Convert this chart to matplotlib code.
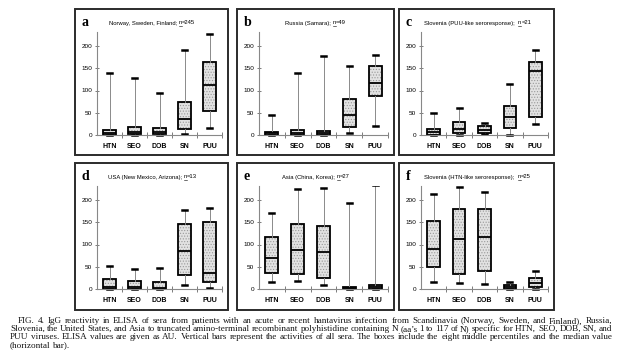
import matplotlib
matplotlib.use("Agg")
import matplotlib.pyplot as plt
from matplotlib.patches import Rectangle
from matplotlib.lines import Line2D

W, H = 624, 361
plt.rcParams["hatch.linewidth"] = 0.5

categories = ["HTN", "SEO", "DOB", "SN", "PUU"]
y_ticks = [0, 50, 100, 150, 200]
panel_letters = ["a", "b", "c", "d", "e", "f"]
panel_prefix = ["Norway, Sweden, Finland; ", "Russia (Samara); ",
                "Slovenia (PUU-like seroresponse);  ", "USA (New Mexico, Arizona); ",
                "Asia (China, Korea); ", "Slovenia (HTN-like seroresponse);  "]
panel_n = ["=245", "=49", "=21", "=13", "=27", "=25"]

# values per panel (AU): lower whisker, q1, median, q3, upper whisker
a_low = [0, 0, 0, 3, 16]
a_q1 = [1, 2, 2, 14, 53]
a_med = [5, 7, 7, 35, 112]
a_q3 = [12, 19, 16, 74, 165]
a_high = [140, 129, 94, 190, 227]

b_low = [0, 0, 0, 4, 21]
b_q1 = [1, 1, 1, 17, 87]
b_med = [4, 5, 4, 45, 117]
b_q3 = [7, 12, 8, 82, 155]
b_high = [45, 140, 178, 156, 180]

c_low = [0, 1, 2, 1, 24]
c_q1 = [1, 4, 4, 15, 41]
c_med = [7, 13, 11, 40, 144]
c_q3 = [13, 30, 21, 65, 165]
c_high = [49, 61, 27, 114, 192]

d_low = [0, 0, 0, 9, 3]
d_q1 = [1, 1, 1, 32, 16]
d_med = [5, 5, 3, 85, 35]
d_q3 = [23, 19, 16, 145, 150]
d_high = [51, 45, 47, 178, 183]

e_low = [16, 18, 10, 0, 0]
e_q1 = [36, 34, 25, 1, 1]
e_med = [69, 87, 84, 2, 4]
e_q3 = [117, 146, 142, 4, 9]
e_high = [171, 225, 228, 193, 233]

f_low = [16, 14, 12, 0, 1]
f_q1 = [50, 34, 40, 1, 4]
f_med = [91, 113, 116, 5, 13]
f_q3 = [153, 179, 180, 10, 24]
f_high = [213, 229, 219, 16, 40]

panels = [
    (a_low, a_q1, a_med, a_q3, a_high),
    (b_low, b_q1, b_med, b_q3, b_high),
    (c_low, c_q1, c_med, c_q3, c_high),
    (d_low, d_q1, d_med, d_q3, d_high),
    (e_low, e_q1, e_med, e_q3, e_high),
    (f_low, f_q1, f_med, f_q3, f_high),
]

caption_lines = [
    "FIG. 4. IgG reactivity in ELISA of sera from patients with an acute or recent hantavirus infection from Scandinavia (Norway, Sweden, and Finland), Russia,",
    "Slovenia, the United States, and Asia to truncated amino-terminal recombinant polyhistidine containing N (aa\u2019s 1 to 117 of N) specific for HTN, SEO, DOB, SN, and",
    "PUU viruses. ELISA values are given as AU. Vertical bars represent the activities of all sera. The boxes include the eight middle percentiles and the median value",
    "(horizontal bar).",
]

fig = plt.figure(figsize=(6.24, 3.61), dpi=100)
fig.patch.set_facecolor("white")

cols = [(75, 228), (237, 394), (399, 554)]
rows = [(9, 155), (163, 310)]
title_dx = [34, 48, 25, 33, 45, 25]
PXU = 0.445
YMIN, YMAX = -8, 232

def fx(x):
    return x / W

def fy(y):
    return 1 - y / H

renderer = fig.canvas.get_renderer()

for i in range(6):
    r, c = divmod(i, 3)
    x0, x1 = cols[c]
    y0, y1 = rows[r]
    fig.patches.append(Rectangle((fx(x0), fy(y1)), (x1 - x0) / W, (y1 - y0) / H,
                                 transform=fig.transFigure, fill=False, lw=1.4,
                                 ec="#2b2b2b"))
    axl = x0 + 22
    axr = x1 - 6
    zero = y0 + 126
    top = zero - YMAX * PXU
    bot = zero - YMIN * PXU
    ax = fig.add_axes([fx(axl), fy(bot), (axr - axl) / W, (bot - top) / H])
    ax.set_facecolor("none")
    low, q1, med, q3, high = panels[i]
    stats = [dict(whislo=low[k], q1=q1[k], med=med[k], q3=q3[k], whishi=high[k],
                  label=categories[k]) for k in range(5)]
    bp = ax.bxp(stats, positions=range(1, 6), widths=0.5, patch_artist=True,
                showfliers=False, capwidths=0.2,
                boxprops=dict(facecolor="#e2e2e2", edgecolor="black",
                              linewidth=1.3),
                medianprops=dict(color="black", linewidth=1.3),
                whiskerprops=dict(color="#8a8a8a", linewidth=0.7),
                capprops=dict(color="black", linewidth=1.8))
    for bx in bp["boxes"]:
        bx.set_hatch("......")
        bx._hatch_color = (0.6, 0.6, 0.6, 1.0)
    ax.set_xlim(0.5, 5.5)
    ax.set_ylim(YMIN, YMAX)
    for s in ["top", "right"]:
        ax.spines[s].set_visible(False)
    ax.spines["left"].set_bounds(0, YMAX)
    ax.spines["left"].set_color("#888888")
    ax.spines["left"].set_linewidth(0.8)
    ax.spines["bottom"].set_position(("data", 0))
    ax.spines["bottom"].set_color("#888888")
    ax.spines["bottom"].set_linewidth(0.8)
    ax.set_yticks(y_ticks)
    ax.set_yticklabels([str(v) for v in y_ticks], fontsize=4.6,
                       family="Liberation Sans")
    ax.tick_params(axis="y", direction="inout", length=3, width=0.6,
                   color="#666666", pad=2)
    ax.set_xticks(range(1, 6))
    ax.set_xticklabels(categories, fontsize=5, fontweight="bold",
                       family="Liberation Sans")
    ax.set_xticks([1.5, 2.5, 3.5, 4.5, 5.5], minor=True)
    ax.tick_params(axis="x", which="major", length=0, pad=5.5)
    ax.tick_params(axis="x", which="minor", direction="inout", length=4,
                   width=0.6, color="#666666")
    # panel letter
    fig.text(fx(x0 + 7), fy(y0 + 14), panel_letters[i], fontsize=10,
             fontweight="bold", family="Liberation Serif", va="center",
             ha="left")
    # title with underlined n
    tx = x0 + title_dx[i]
    ty = y0 + 14
    t1 = fig.text(fx(tx), fy(ty), panel_prefix[i], fontsize=4.2,
                  family="Liberation Sans", va="center", ha="left")
    w1 = t1.get_window_extent(renderer=renderer).width
    t2 = fig.text(fx(tx + w1), fy(ty), "n", fontsize=4.2,
                  family="Liberation Sans", va="center", ha="left")
    w2 = t2.get_window_extent(renderer=renderer).width
    fig.lines.append(Line2D([fx(tx + w1), fx(tx + w1 + w2)],
                            [fy(ty + 3), fy(ty + 3)], transform=fig.transFigure,
                            color="black", lw=0.4))
    fig.text(fx(tx + w1 + w2), fy(ty), panel_n[i], fontsize=4.2,
             family="Liberation Sans", va="center", ha="left")

# caption, justified word by word
cap_fs = 6.6
cap_y = [321, 329.2, 337.4, 345.6]
cap_x0 = [18, 10, 10, 10]
cap_x1 = 612
for li, line in enumerate(caption_lines):
    words = line.split(" ")
    texts = [fig.text(0, fy(cap_y[li]), w, fontsize=cap_fs,
                      family="Liberation Serif", va="center", ha="left",
                      color="#111111")
             for w in words]
    widths = [t.get_window_extent(renderer=renderer).width for t in texts]
    last = li == len(caption_lines) - 1
    if last:
        sp = cap_fs * 0.25 * 100 / 72
    else:
        sp = (cap_x1 - cap_x0[li] - sum(widths)) / (len(words) - 1)
    x = cap_x0[li]
    for t, w in zip(texts, widths):
        t.set_x(fx(x))
        x += w + sp

fig.savefig("out.png", dpi=100, facecolor="white")
